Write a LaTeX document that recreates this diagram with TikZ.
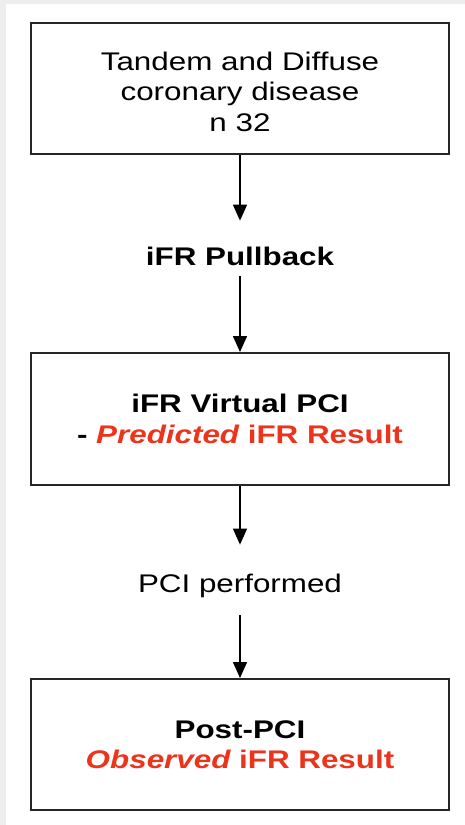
\documentclass[tikz,border=0pt]{standalone}
\usepackage{fontspec}
\setmainfont{Liberation Sans}[FakeStretch=1.23]
\usetikzlibrary{arrows.meta}
\definecolor{redt}{RGB}{236,52,28}
\definecolor{boxline}{RGB}{38,38,38}
\definecolor{edgegray}{RGB}{238,238,238}
\tikzset{
  box/.style={draw=boxline, line width=2pt, fill=white, minimum width=418pt,
    inner sep=0pt, align=center, font=\fontsize{25.5pt}{30.5pt}\selectfont},
  lbl/.style={inner sep=0pt, font=\fontsize{25.5pt}{30.5pt}\selectfont},
  arr/.style={line width=1.5pt, -{Triangle[width=14pt,length=16pt]}},
}
\begin{document}
\begin{tikzpicture}[x=1pt,y=-1pt]
  \fill[white] (0,0) rectangle (465,825);
  \useasboundingbox (0,0) rectangle (465,825);
  \fill[edgegray] (0,0) rectangle (465,4);
  \fill[edgegray] (0,0) rectangle (6,825);

  \node[box, minimum height=131pt] (b1) at (240,88.5)
    {\rule{0pt}{25pt}Tandem and Diffuse\\coronary disease\\n 32};
  \node[lbl, anchor=base] (pb) at (240,265) {\bfseries iFR Pullback};
  \node[box, minimum height=132pt] (b2) at (240,419)
    {\bfseries iFR Virtual PCI\\\bfseries - \color{redt}\itshape Predicted\upshape{} iFR Result};
  \node[lbl, anchor=base] (pp) at (240,592) {PCI performed};
  \node[box, minimum height=131pt] (b3) at (240,744.5)
    {\bfseries Post-PCI\\\bfseries\color{redt}\itshape Observed\upshape{} iFR Result};

  \draw[arr, shorten >=25.7pt] (b1.south) -- (pb.north);
  \draw[arr, shorten <=11pt] (pb.south) -- (b2.north);
  \draw[arr, shorten >=28.7pt] (b2.south) -- (pp.north);
  \draw[arr, shorten <=17.6pt] (pp.south) -- (b3.north);
\end{tikzpicture}
\end{document}
